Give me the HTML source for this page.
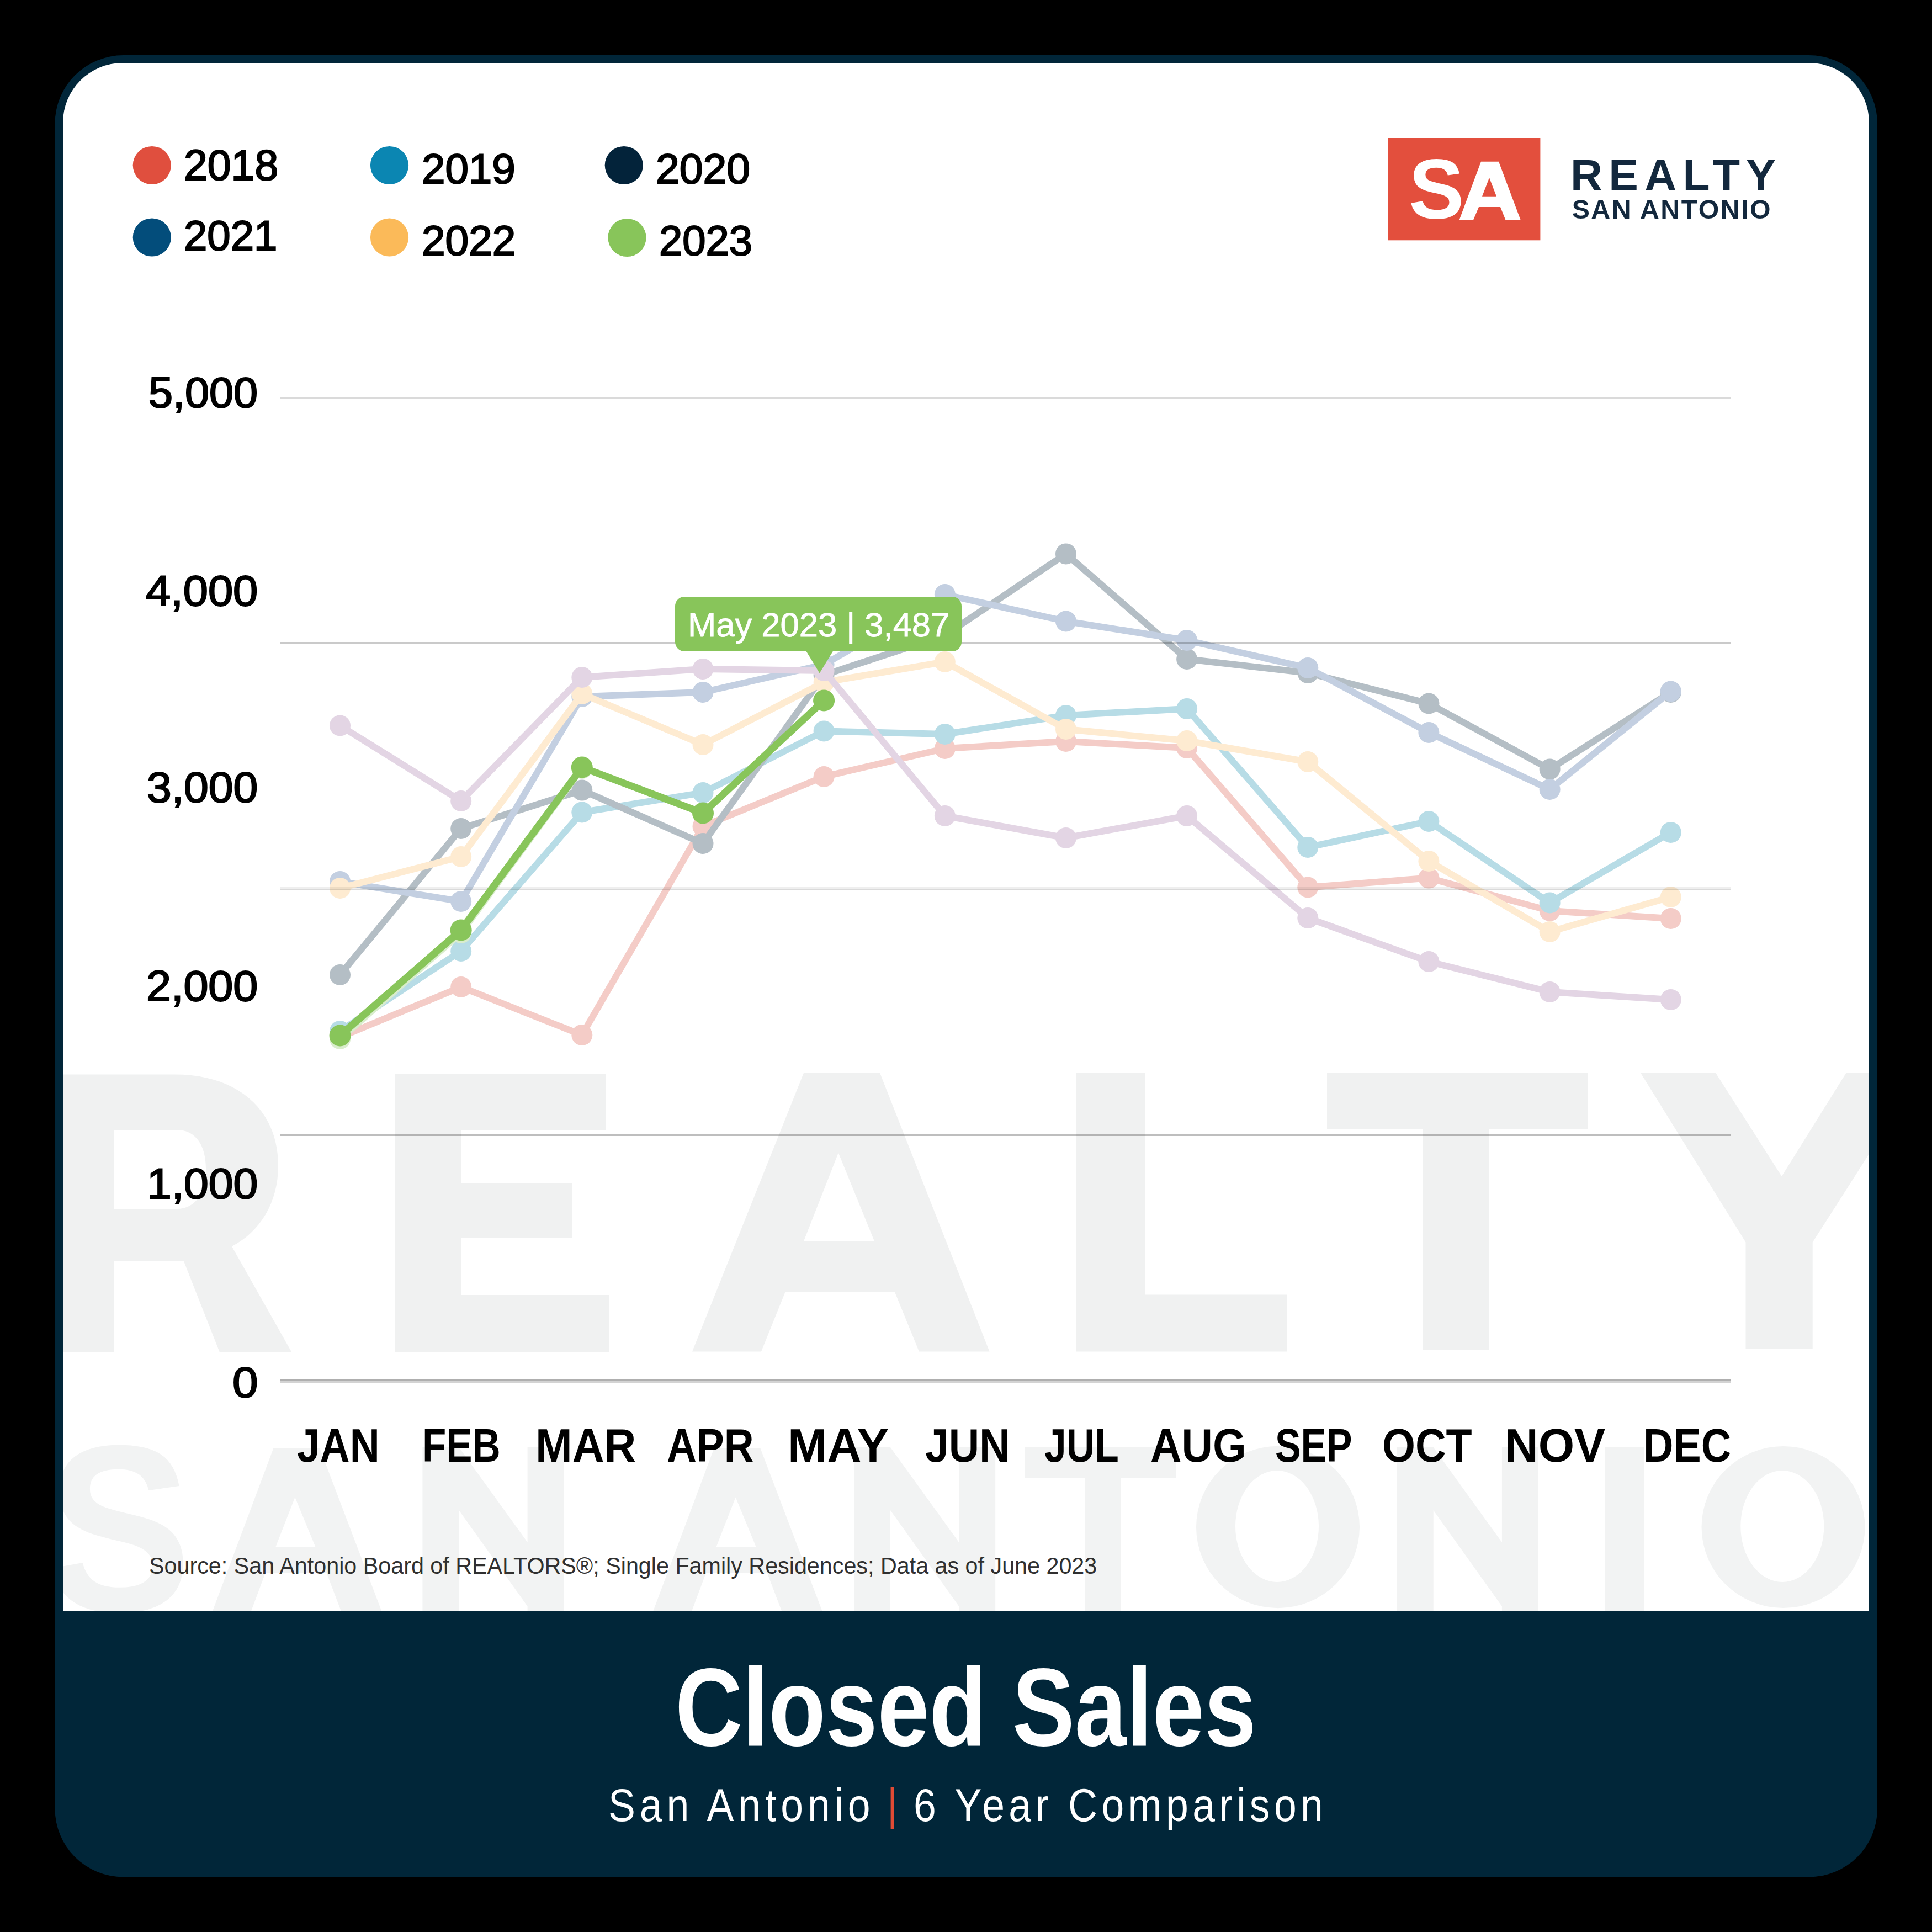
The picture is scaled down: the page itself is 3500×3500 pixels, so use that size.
<!DOCTYPE html>
<html><head><meta charset="utf-8"><style>
html,body{margin:0;padding:0;background:#000;width:3500px;height:3500px;overflow:hidden}
.t{position:absolute;white-space:nowrap;line-height:1;font-family:"Liberation Sans",sans-serif}
svg{position:absolute;left:0;top:0}
</style></head><body>
<svg width="3500" height="3500" viewBox="0 0 3500 3500">
<defs><clipPath id="wa"><path d="M114,2919 V222 A108,108 0 0 1 222,114 H3278 A108,108 0 0 1 3386,222 V2919 Z"/></clipPath></defs>
<rect x="99.5" y="100" width="3301.5" height="3300.5" rx="124" ry="124" fill="#012639"/>
<path d="M114,2919 V222 A108,108 0 0 1 222,114 H3278 A108,108 0 0 1 3386,222 V2919 Z" fill="#fff"/>
<g clip-path="url(#wa)">
<g fill="#F0F1F1">
 <!-- R -->
 <path d="M60,1946.6 H317 C430,1946.6 504,2010 504,2112 C504,2180 470,2232 420,2258 L528.6,2450 H398 L333,2285 H207 V2450 H60 Z M207,2047 V2190 H320 C355,2190 373,2160 373,2118 C373,2075 355,2047 320,2047 Z" fill-rule="evenodd"/>
 <!-- E -->
 <path d="M715,1946 H1097 V2047 H836 V2144 H1037 V2243 H836 V2346 H1103 V2450 H715 Z"/>
 <!-- A -->
 <path d="M1456,1943.7 H1594 L1792.6,2448.5 H1665 L1621,2340.8 H1422.5 L1379,2448.5 H1254 Z M1518.8,2088.4 L1456,2248.6 H1584 Z" fill-rule="evenodd"/>
 <!-- L -->
 <path d="M1949.5,1943.7 H2075 V2345.5 H2331 V2448.5 H1949.5 Z"/>
 <!-- T -->
 <path d="M2404,1943.5 H2876 V2045.7 H2698 V2446 H2578 V2045.7 H2404 Z"/>
 <!-- Y -->
 <path d="M2972,1943.5 H3108 L3227.7,2131 L3344.6,1943.5 H3480 L3283.7,2250.5 V2443.5 H3162.5 V2250.5 Z"/>
</g>
<g fill="#F2F3F3" font-family="Liberation Sans" font-weight="bold">
 <text x="0" y="0" font-size="430" transform="translate(83.3 2918) scale(0.92 1)">S</text>
 <path d="M495.6,2623 H579.0 L707.0,2960 H633.6 L591.8,2850 H480.6 L439.5,2960 H369.6 Z M534.4,2712.6 L499.5,2802 H571.3 Z" fill-rule="evenodd"/>
 <polygon points="765.4,2622 831.4,2622 955.6,2794 955.6,2622 1021.6,2622 1021.6,2960 955.6,2960 955.6,2910 831.4,2736 831.4,2960 765.4,2960"/>
 <path d="M1293.8,2623 H1377.2 L1505.2,2960 H1431.8 L1390.0,2850 H1278.8 L1237.7,2960 H1167.8 Z M1332.6,2712.6 L1297.7,2802 H1369.5 Z" fill-rule="evenodd"/>
 <polygon points="1547.0,2622 1613.0,2622 1737.2,2794 1737.2,2622 1803.2,2622 1803.2,2960 1737.2,2960 1737.2,2910 1613.0,2736 1613.0,2960 1547.0,2960"/>
 <path d="M1857,2622 H2130.7 V2678 H2031 V2960 H1966 V2678 H1857 Z"/>
 <path d="M2167,2766.5 a148,146.5 0 1,0 296,0 a148,146.5 0 1,0 -296,0 Z M2238.0,2765 a75.5,101 0 1,0 151,0 a75.5,101 0 1,0 -151,0 Z" fill-rule="evenodd"/>
 <polygon points="2530.7,2622 2596.7,2622 2720.9,2794 2720.9,2622 2786.9,2622 2786.9,2960 2720.9,2960 2720.9,2910 2596.7,2736 2596.7,2960 2530.7,2960"/>
 <path d="M2907.5,2622 H2978 V2960 H2907.5 Z"/>
 <path d="M3082.5,2766.5 a148,146.5 0 1,0 296,0 a148,146.5 0 1,0 -296,0 Z M3153.3,2765 a75.5,101 0 1,0 151,0 a75.5,101 0 1,0 -151,0 Z" fill-rule="evenodd"/>
</g>
</g>
<polyline points="616.0,1879.0 835.2,1788.0 1054.3,1875.0 1273.5,1497.0 1492.6,1407.0 1711.8,1356.0 1931.0,1343.0 2150.1,1355.0 2369.3,1607.5 2588.4,1590.6 2807.6,1650.0 3026.8,1664.0" fill="none" stroke="#F4CCC7" stroke-width="12" stroke-linejoin="round"/>
<circle cx="616.0" cy="1879.0" r="19" fill="#F4CCC7"/>
<circle cx="835.2" cy="1788.0" r="19" fill="#F4CCC7"/>
<circle cx="1054.3" cy="1875.0" r="19" fill="#F4CCC7"/>
<circle cx="1273.5" cy="1497.0" r="19" fill="#F4CCC7"/>
<circle cx="1492.6" cy="1407.0" r="19" fill="#F4CCC7"/>
<circle cx="1711.8" cy="1356.0" r="19" fill="#F4CCC7"/>
<circle cx="1931.0" cy="1343.0" r="19" fill="#F4CCC7"/>
<circle cx="2150.1" cy="1355.0" r="19" fill="#F4CCC7"/>
<circle cx="2369.3" cy="1607.5" r="19" fill="#F4CCC7"/>
<circle cx="2588.4" cy="1590.6" r="19" fill="#F4CCC7"/>
<circle cx="2807.6" cy="1650.0" r="19" fill="#F4CCC7"/>
<circle cx="3026.8" cy="1664.0" r="19" fill="#F4CCC7"/>
<polyline points="616.0,1868.0 835.2,1723.0 1054.3,1471.5 1273.5,1436.0 1492.6,1324.5 1711.8,1330.0 1931.0,1296.0 2150.1,1284.0 2369.3,1535.0 2588.4,1488.0 2807.6,1635.5 3026.8,1508.0" fill="none" stroke="#B7DCE6" stroke-width="12" stroke-linejoin="round"/>
<circle cx="616.0" cy="1868.0" r="19" fill="#B7DCE6"/>
<circle cx="835.2" cy="1723.0" r="19" fill="#B7DCE6"/>
<circle cx="1054.3" cy="1471.5" r="19" fill="#B7DCE6"/>
<circle cx="1273.5" cy="1436.0" r="19" fill="#B7DCE6"/>
<circle cx="1492.6" cy="1324.5" r="19" fill="#B7DCE6"/>
<circle cx="1711.8" cy="1330.0" r="19" fill="#B7DCE6"/>
<circle cx="1931.0" cy="1296.0" r="19" fill="#B7DCE6"/>
<circle cx="2150.1" cy="1284.0" r="19" fill="#B7DCE6"/>
<circle cx="2369.3" cy="1535.0" r="19" fill="#B7DCE6"/>
<circle cx="2588.4" cy="1488.0" r="19" fill="#B7DCE6"/>
<circle cx="2807.6" cy="1635.5" r="19" fill="#B7DCE6"/>
<circle cx="3026.8" cy="1508.0" r="19" fill="#B7DCE6"/>
<polyline points="616.0,1766.0 835.2,1501.0 1054.3,1431.6 1273.5,1528.0 1492.6,1223.0 1711.8,1151.0 1931.0,1003.4 2150.1,1194.0 2369.3,1219.0 2588.4,1274.5 2807.6,1393.5 3026.8,1254.0" fill="none" stroke="#B4BEC5" stroke-width="12" stroke-linejoin="round"/>
<circle cx="616.0" cy="1766.0" r="19" fill="#B4BEC5"/>
<circle cx="835.2" cy="1501.0" r="19" fill="#B4BEC5"/>
<circle cx="1054.3" cy="1431.6" r="19" fill="#B4BEC5"/>
<circle cx="1273.5" cy="1528.0" r="19" fill="#B4BEC5"/>
<circle cx="1492.6" cy="1223.0" r="19" fill="#B4BEC5"/>
<circle cx="1711.8" cy="1151.0" r="19" fill="#B4BEC5"/>
<circle cx="1931.0" cy="1003.4" r="19" fill="#B4BEC5"/>
<circle cx="2150.1" cy="1194.0" r="19" fill="#B4BEC5"/>
<circle cx="2369.3" cy="1219.0" r="19" fill="#B4BEC5"/>
<circle cx="2588.4" cy="1274.5" r="19" fill="#B4BEC5"/>
<circle cx="2807.6" cy="1393.5" r="19" fill="#B4BEC5"/>
<circle cx="3026.8" cy="1254.0" r="19" fill="#B4BEC5"/>
<polyline points="616.0,1597.0 835.2,1633.0 1054.3,1262.0 1273.5,1254.0 1492.6,1204.0 1711.8,1077.0 1931.0,1125.5 2150.1,1160.0 2369.3,1210.0 2588.4,1327.0 2807.6,1430.0 3026.8,1252.5" fill="none" stroke="#C3CFE1" stroke-width="12" stroke-linejoin="round"/>
<circle cx="616.0" cy="1597.0" r="19" fill="#C3CFE1"/>
<circle cx="835.2" cy="1633.0" r="19" fill="#C3CFE1"/>
<circle cx="1054.3" cy="1262.0" r="19" fill="#C3CFE1"/>
<circle cx="1273.5" cy="1254.0" r="19" fill="#C3CFE1"/>
<circle cx="1492.6" cy="1204.0" r="19" fill="#C3CFE1"/>
<circle cx="1711.8" cy="1077.0" r="19" fill="#C3CFE1"/>
<circle cx="1931.0" cy="1125.5" r="19" fill="#C3CFE1"/>
<circle cx="2150.1" cy="1160.0" r="19" fill="#C3CFE1"/>
<circle cx="2369.3" cy="1210.0" r="19" fill="#C3CFE1"/>
<circle cx="2588.4" cy="1327.0" r="19" fill="#C3CFE1"/>
<circle cx="2807.6" cy="1430.0" r="19" fill="#C3CFE1"/>
<circle cx="3026.8" cy="1252.5" r="19" fill="#C3CFE1"/>
<polyline points="616.0,1609.0 835.2,1552.0 1054.3,1257.0 1273.5,1349.0 1492.6,1236.0 1711.8,1199.0 1931.0,1321.0 2150.1,1342.0 2369.3,1380.0 2588.4,1560.0 2807.6,1688.0 3026.8,1625.0" fill="none" stroke="#FEEBD1" stroke-width="12" stroke-linejoin="round"/>
<circle cx="616.0" cy="1609.0" r="19" fill="#FEEBD1"/>
<circle cx="835.2" cy="1552.0" r="19" fill="#FEEBD1"/>
<circle cx="1054.3" cy="1257.0" r="19" fill="#FEEBD1"/>
<circle cx="1273.5" cy="1349.0" r="19" fill="#FEEBD1"/>
<circle cx="1492.6" cy="1236.0" r="19" fill="#FEEBD1"/>
<circle cx="1711.8" cy="1199.0" r="19" fill="#FEEBD1"/>
<circle cx="1931.0" cy="1321.0" r="19" fill="#FEEBD1"/>
<circle cx="2150.1" cy="1342.0" r="19" fill="#FEEBD1"/>
<circle cx="2369.3" cy="1380.0" r="19" fill="#FEEBD1"/>
<circle cx="2588.4" cy="1560.0" r="19" fill="#FEEBD1"/>
<circle cx="2807.6" cy="1688.0" r="19" fill="#FEEBD1"/>
<circle cx="3026.8" cy="1625.0" r="19" fill="#FEEBD1"/>
<polyline points="616.0,1314.5 835.2,1451.0 1054.3,1227.0 1273.5,1212.0 1492.6,1215.0 1711.8,1478.0 1931.0,1518.0 2150.1,1478.0 2369.3,1663.0 2588.4,1742.0 2807.6,1797.0 3026.8,1811.0" fill="none" stroke="#E3D5E4" stroke-width="12" stroke-linejoin="round"/>
<circle cx="616.0" cy="1314.5" r="19" fill="#E3D5E4"/>
<circle cx="835.2" cy="1451.0" r="19" fill="#E3D5E4"/>
<circle cx="1054.3" cy="1227.0" r="19" fill="#E3D5E4"/>
<circle cx="1273.5" cy="1212.0" r="19" fill="#E3D5E4"/>
<circle cx="1492.6" cy="1215.0" r="19" fill="#E3D5E4"/>
<circle cx="1711.8" cy="1478.0" r="19" fill="#E3D5E4"/>
<circle cx="1931.0" cy="1518.0" r="19" fill="#E3D5E4"/>
<circle cx="2150.1" cy="1478.0" r="19" fill="#E3D5E4"/>
<circle cx="2369.3" cy="1663.0" r="19" fill="#E3D5E4"/>
<circle cx="2588.4" cy="1742.0" r="19" fill="#E3D5E4"/>
<circle cx="2807.6" cy="1797.0" r="19" fill="#E3D5E4"/>
<circle cx="3026.8" cy="1811.0" r="19" fill="#E3D5E4"/>
<polyline points="616.0,1882.0 835.2,1690.0 1054.3,1392.0" fill="none" stroke="#D9EDCC" stroke-width="12" stroke-linejoin="round"/>
<circle cx="616.0" cy="1882.0" r="19" fill="#D9EDCC"/>
<circle cx="835.2" cy="1690.0" r="19" fill="#D9EDCC"/>
<circle cx="1054.3" cy="1392.0" r="19" fill="#D9EDCC"/>
<rect x="508" y="719" width="2628" height="3" fill="rgba(0,0,0,0.145)"/>
<rect x="508" y="1163" width="2628" height="3" fill="rgba(0,0,0,0.208)"/>
<rect x="508" y="1607" width="2628" height="3" fill="rgba(0,0,0,0.063)"/>
<rect x="508" y="1610" width="2628" height="3" fill="rgba(0,0,0,0.145)"/>
<rect x="508" y="2055" width="2628" height="3" fill="rgba(0,0,0,0.255)"/>
<rect x="508" y="2499" width="2628" height="3" fill="rgba(0,0,0,0.314)"/>
<rect x="508" y="2502" width="2628" height="3" fill="rgba(0,0,0,0.173)"/>
<polyline points="616.0,1876.0 835.2,1685.0 1054.3,1390.0 1273.5,1473.0 1492.6,1269.0" fill="none" stroke="#88C55A" stroke-width="13" stroke-linejoin="round"/>
<circle cx="616.0" cy="1876.0" r="19.5" fill="#88C55A"/>
<circle cx="835.2" cy="1685.0" r="19.5" fill="#88C55A"/>
<circle cx="1054.3" cy="1390.0" r="19.5" fill="#88C55A"/>
<circle cx="1273.5" cy="1473.0" r="19.5" fill="#88C55A"/>
<circle cx="1492.6" cy="1269.0" r="19.5" fill="#88C55A"/>
<rect x="1223" y="1081" width="519" height="99" rx="17" fill="#88C55A"/>
<polygon points="1459.5,1178 1510,1178 1484.7,1219.5" fill="#88C55A"/>

<circle cx="275.3" cy="299.5" r="34.6" fill="#E04F3E"/>
<circle cx="275.3" cy="430" r="34.6" fill="#034D7B"/>
<circle cx="705.5" cy="299.5" r="34.6" fill="#0B86B2"/>
<circle cx="705.5" cy="430" r="34.6" fill="#FBBA59"/>
<circle cx="1130.3" cy="299.5" r="34.6" fill="#03233A"/>
<circle cx="1136" cy="430.5" r="34.6" fill="#88C55A"/>
<rect x="2514" y="250" width="276.4" height="185.3" fill="#E34F3D"/>
<path d="M2683,292.8 H2715 L2754.7,398.4 H2727.5 L2718,375 H2679 L2669,398.4 H2643.6 Z M2698,322 L2685,355.7 H2711 Z" fill="#fff" fill-rule="evenodd"/>

<rect x="1613.6" y="3238" width="6.2" height="75.6" fill="#E04B35"/>
</svg>
<div class="t" style="left:332.62px;top:261.04px;font-size:77.401px;font-weight:normal;color:#000;letter-spacing:0.000px;transform:scaleX(0.99461);transform-origin:0 0;-webkit-text-stroke:2.2px #000;">2018</div>
<div class="t" style="left:332.61px;top:389.19px;font-size:76.412px;font-weight:normal;color:#000;letter-spacing:0.000px;transform:scaleX(0.99634);transform-origin:0 0;-webkit-text-stroke:2.2px #000;">2021</div>
<div class="t" style="left:764.08px;top:267.87px;font-size:75.847px;font-weight:normal;color:#000;letter-spacing:0.000px;transform:scaleX(1.00552);transform-origin:0 0;-webkit-text-stroke:2.2px #000;">2019</div>
<div class="t" style="left:763.99px;top:398.49px;font-size:76.412px;font-weight:normal;color:#000;letter-spacing:0.000px;transform:scaleX(1.00244);transform-origin:0 0;-webkit-text-stroke:2.2px #000;">2022</div>
<div class="t" style="left:1187.56px;top:267.87px;font-size:75.847px;font-weight:normal;color:#000;letter-spacing:0.000px;transform:scaleX(1.01463);transform-origin:0 0;-webkit-text-stroke:2.2px #000;">2020</div>
<div class="t" style="left:1193.52px;top:398.49px;font-size:76.412px;font-weight:normal;color:#000;letter-spacing:0.000px;transform:scaleX(0.99455);transform-origin:0 0;-webkit-text-stroke:2.2px #000;">2023</div>
<div class="t" style="left:268.97px;top:672.86px;font-size:77.966px;font-weight:normal;color:#000;letter-spacing:0.000px;transform:scaleX(1.01571);transform-origin:0 0;-webkit-text-stroke:2.2px #000;">5,000</div>
<div class="t" style="left:263.96px;top:1031.86px;font-size:77.966px;font-weight:normal;color:#000;letter-spacing:0.000px;transform:scaleX(1.04167);transform-origin:0 0;-webkit-text-stroke:2.2px #000;">4,000</div>
<div class="t" style="left:265.94px;top:1387.86px;font-size:77.966px;font-weight:normal;color:#000;letter-spacing:0.000px;transform:scaleX(1.03141);transform-origin:0 0;-webkit-text-stroke:2.2px #000;">3,000</div>
<div class="t" style="left:264.89px;top:1747.86px;font-size:77.966px;font-weight:normal;color:#000;letter-spacing:0.000px;transform:scaleX(1.03684);transform-origin:0 0;-webkit-text-stroke:2.2px #000;">2,000</div>
<div class="t" style="left:265.84px;top:2106.26px;font-size:77.966px;font-weight:normal;color:#000;letter-spacing:0.000px;transform:scaleX(1.03191);transform-origin:0 0;-webkit-text-stroke:2.2px #000;">1,000</div>
<div class="t" style="left:421.06px;top:2465.56px;font-size:77.966px;font-weight:normal;color:#000;letter-spacing:0.000px;transform:scaleX(1.07179);transform-origin:0 0;-webkit-text-stroke:2.2px #000;">0</div>
<div class="t" style="left:537.62px;top:2576.63px;font-size:84.593px;font-weight:bold;color:#000;letter-spacing:0.000px;transform:scaleX(0.88457);transform-origin:0 0;">JAN</div>
<div class="t" style="left:764.77px;top:2576.63px;font-size:84.593px;font-weight:bold;color:#000;letter-spacing:0.000px;transform:scaleX(0.83774);transform-origin:0 0;">FEB</div>
<div class="t" style="left:969.72px;top:2576.63px;font-size:84.593px;font-weight:bold;color:#000;letter-spacing:0.000px;transform:scaleX(0.94674);transform-origin:0 0;">MAR</div>
<div class="t" style="left:1207.63px;top:2576.63px;font-size:84.593px;font-weight:bold;color:#000;letter-spacing:0.000px;transform:scaleX(0.88276);transform-origin:0 0;">APR</div>
<div class="t" style="left:1427.10px;top:2576.63px;font-size:84.593px;font-weight:bold;color:#000;letter-spacing:0.000px;transform:scaleX(1.01618);transform-origin:0 0;">MAY</div>
<div class="t" style="left:1675.69px;top:2576.63px;font-size:84.593px;font-weight:bold;color:#000;letter-spacing:0.000px;transform:scaleX(0.90741);transform-origin:0 0;">JUN</div>
<div class="t" style="left:1891.86px;top:2576.63px;font-size:84.593px;font-weight:bold;color:#000;letter-spacing:0.000px;transform:scaleX(0.84423);transform-origin:0 0;">JUL</div>
<div class="t" style="left:2083.85px;top:2576.63px;font-size:84.593px;font-weight:bold;color:#000;letter-spacing:0.000px;transform:scaleX(0.92431);transform-origin:0 0;">AUG</div>
<div class="t" style="left:2309.72px;top:2576.63px;font-size:84.593px;font-weight:bold;color:#000;letter-spacing:0.000px;transform:scaleX(0.82515);transform-origin:0 0;">SEP</div>
<div class="t" style="left:2503.67px;top:2576.63px;font-size:84.593px;font-weight:bold;color:#000;letter-spacing:0.000px;transform:scaleX(0.91086);transform-origin:0 0;">OCT</div>
<div class="t" style="left:2725.74px;top:2576.63px;font-size:84.593px;font-weight:bold;color:#000;letter-spacing:0.000px;transform:scaleX(0.99375);transform-origin:0 0;">NOV</div>
<div class="t" style="left:2977.26px;top:2576.63px;font-size:84.593px;font-weight:bold;color:#000;letter-spacing:0.000px;transform:scaleX(0.89059);transform-origin:0 0;">DEC</div>
<div class="t" style="left:269.68px;top:2815.25px;font-size:42.938px;font-weight:normal;color:#303030;letter-spacing:0.000px;transform:scaleX(0.96150);transform-origin:0 0;">Source: San Antonio Board of REALTORS®; Single Family Residences; Data as of June 2023</div>
<div class="t" style="left:1246.02px;top:1102.12px;font-size:60.610px;font-weight:normal;color:#fff;letter-spacing:0.000px;transform:scaleX(1.01503);transform-origin:0 0;-webkit-text-stroke:0.8px #fff;">May 2023 | 3,487</div>
<div class="t" style="left:1223.28px;top:2992.21px;font-size:201.271px;font-weight:bold;color:#fff;letter-spacing:0.000px;transform:scaleX(0.84034);transform-origin:0 0;">Closed Sales</div>
<div class="t" style="left:1102.08px;top:3229.17px;font-size:83.333px;font-weight:normal;color:#fff;letter-spacing:8.993px;transform:scaleX(0.88000);transform-origin:0 0;">San Antonio</div>
<div class="t" style="left:1655.18px;top:3229.17px;font-size:83.333px;font-weight:normal;color:#fff;letter-spacing:8.393px;transform:scaleX(0.88000);transform-origin:0 0;">6 Year Comparison</div>
<div class="t" style="left:2551.81px;top:266.91px;font-size:153.955px;font-weight:bold;color:#fff;letter-spacing:0.000px;transform:scaleX(0.97826);transform-origin:0 0;">S</div>
<div class="t" style="left:2845.00px;top:277.00px;font-size:80.378px;font-weight:bold;color:#13283D;letter-spacing:11.300px;">REALTY</div>
<div class="t" style="left:2847.70px;top:355.18px;font-size:48.256px;font-weight:bold;color:#13283D;letter-spacing:2.470px;">SAN ANTONIO</div>
</body></html>
